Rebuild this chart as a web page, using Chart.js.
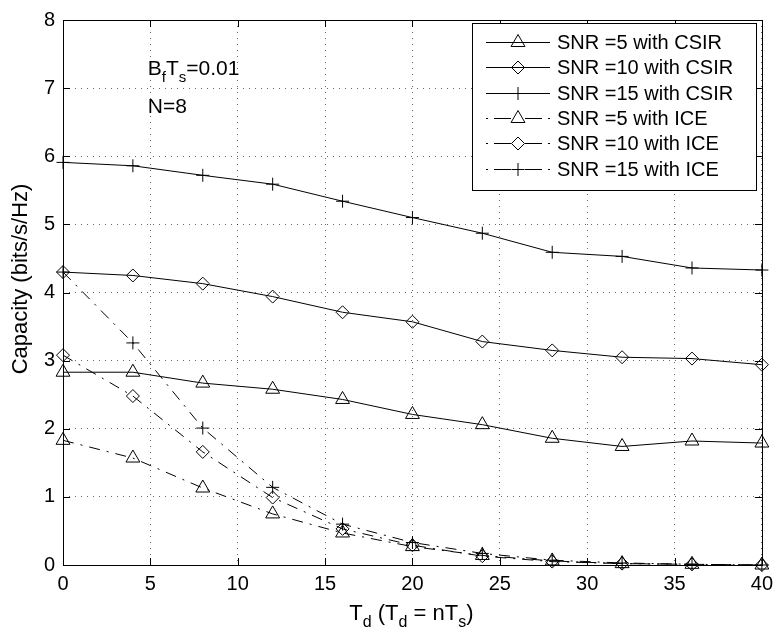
<!DOCTYPE html>
<html>
<head>
<meta charset="utf-8">
<script src="https://cdn.jsdelivr.net/npm/chart.js@4.4.0/dist/chart.umd.min.js"></script>
<style>
  html, body { margin: 0; padding: 0; background: #fff; }
  #wrap { width: 780px; height: 637px; }
</style>
</head>
<body>
<div id="wrap"><canvas id="capChart" width="780" height="637"></canvas></div>
<script>
// Td values (x) and capacity curves (bits/s/Hz)
const tdValues = [0, 4, 8, 12, 16, 20, 24, 28, 32, 36, 40];
const snr5Csir  = [2.83, 2.83, 2.67, 2.58, 2.43, 2.21, 2.06, 1.86, 1.74, 1.82, 1.79];
const snr10Csir = [4.30, 4.25, 4.13, 3.94, 3.71, 3.57, 3.28, 3.15, 3.05, 3.03, 2.94];
const snr15Csir = [5.91, 5.86, 5.72, 5.59, 5.34, 5.10, 4.87, 4.59, 4.53, 4.36, 4.33];
const snr5Ice   = [1.83, 1.57, 1.13, 0.75, 0.47, 0.27, 0.14, 0.06, 0.02, 0.01, 0.00];
const snr10Ice  = [3.08, 2.48, 1.66, 0.99, 0.53, 0.29, 0.13, 0.05, 0.02, 0.01, 0.00];
const snr15Ice  = [4.30, 3.26, 2.01, 1.14, 0.60, 0.33, 0.17, 0.07, 0.03, 0.01, 0.00];

const seriesLabels = [
  'SNR =5 with CSIR', 'SNR =10 with CSIR', 'SNR =15 with CSIR',
  'SNR =5 with ICE', 'SNR =10 with ICE', 'SNR =15 with ICE'
];
const xTickValues = [0, 5, 10, 15, 20, 25, 30, 35, 40];
const yTickValues = [0, 1, 2, 3, 4, 5, 6, 7, 8];

const FONT = '"Liberation Sans", Arial, Helvetica, sans-serif';
const DASHDOT = [11, 7, 2, 7];

function pts(ys) {
  return ys.map((y, i) => ({ x: tdValues[i], y: y }));
}

function series(label, ys, style, dashed) {
  return {
    label: label,
    data: pts(ys),
    borderColor: '#000',
    borderWidth: 1,
    borderDash: dashed ? DASHDOT : [],
    pointStyle: style,
    pointRadius: style === 'triangle' ? 8 : 6.5,
    pointBorderColor: '#000',
    pointBackgroundColor: 'rgba(0,0,0,0)',
    pointBorderWidth: 1,
    tension: 0,
    fill: false,
    clip: false
  };
}

// draw text made of normal and subscript pieces
function richText(ctx, parts, x, y, size, subSize, align) {
  let total = 0;
  parts.forEach(p => {
    ctx.font = (p.sub ? subSize : size) + 'px ' + FONT;
    total += ctx.measureText(p.t).width;
  });
  let cx = align === 'center' ? x - total / 2 : x;
  ctx.textAlign = 'left';
  ctx.textBaseline = 'alphabetic';
  parts.forEach(p => {
    ctx.font = (p.sub ? subSize : size) + 'px ' + FONT;
    ctx.fillText(p.t, cx, p.sub ? y + size * 0.32 : y);
    cx += ctx.measureText(p.t).width;
  });
}

function marker(ctx, style, x, y, r) {
  ctx.beginPath();
  if (style === 'triangle') {
    for (let k = 0; k < 3; k++) {
      const a = k * 2 * Math.PI / 3;
      const px = x + Math.sin(a) * r, py = y - Math.cos(a) * r;
      if (k === 0) ctx.moveTo(px, py); else ctx.lineTo(px, py);
    }
    ctx.closePath();
  } else if (style === 'rectRot') {
    ctx.moveTo(x - r, y); ctx.lineTo(x, y - r); ctx.lineTo(x + r, y); ctx.lineTo(x, y + r);
    ctx.closePath();
  } else {
    ctx.moveTo(x - r, y); ctx.lineTo(x + r, y);
    ctx.moveTo(x, y - r); ctx.lineTo(x, y + r);
  }
  ctx.stroke();
}

const decorations = {
  id: 'decorations',
  afterDraw(chart) {
    const ctx = chart.ctx;
    const a = chart.chartArea;
    const xs = chart.scales.x, ys = chart.scales.y;
    ctx.save();
    ctx.strokeStyle = '#000';
    ctx.fillStyle = '#000';
    ctx.lineWidth = 1;
    ctx.setLineDash([]);

    // axes box
    ctx.strokeRect(Math.round(a.left) + 0.5, Math.round(a.top) + 0.5,
      Math.round(a.right - a.left), Math.round(a.bottom - a.top));

    // inward tick marks on all four sides
    const tl = 7;
    ctx.beginPath();
    xTickValues.forEach(v => {
      const px = Math.round(xs.getPixelForValue(v)) + 0.5;
      ctx.moveTo(px, a.bottom); ctx.lineTo(px, a.bottom - tl);
      ctx.moveTo(px, a.top); ctx.lineTo(px, a.top + tl);
    });
    yTickValues.forEach(v => {
      const py = Math.round(ys.getPixelForValue(v)) + 0.5;
      ctx.moveTo(a.left, py); ctx.lineTo(a.left + tl, py);
      ctx.moveTo(a.right, py); ctx.lineTo(a.right - tl, py);
    });
    ctx.stroke();

    // axis titles
    richText(ctx, [
      { t: 'T' }, { t: 'd', sub: true }, { t: ' (T' }, { t: 'd', sub: true },
      { t: ' = nT' }, { t: 's', sub: true }, { t: ')' }
    ], (a.left + a.right) / 2 - 1, 620, 22, 16, 'center');

    ctx.save();
    ctx.translate(21, 279);
    ctx.rotate(-Math.PI / 2);
    ctx.font = '22px ' + FONT;
    ctx.textAlign = 'center';
    ctx.textBaseline = 'middle';
    ctx.fillText('Capacity (bits/s/Hz)', 0, 0);
    ctx.restore();

    // parameter annotations
    const annX = xs.getPixelForValue(4.85);
    richText(ctx, [
      { t: 'B' }, { t: 'f', sub: true }, { t: 'T' }, { t: 's', sub: true }, { t: '=0.01' }
    ], annX, ys.getPixelForValue(7.19), 21, 15, 'left');
    richText(ctx, [{ t: 'N=8' }], annX, ys.getPixelForValue(6.64), 21, 15, 'left');

    // legend
    const lx = 472, ly = 23, lw = 284, lh = 167;
    ctx.fillStyle = '#fff';
    ctx.fillRect(lx, ly, lw, lh);
    ctx.strokeRect(lx + 0.5, ly + 0.5, lw, lh);
    ctx.fillStyle = '#000';
    ctx.font = '20px ' + FONT;
    ctx.textAlign = 'left';
    ctx.textBaseline = 'middle';
    chart.data.datasets.forEach((ds, i) => {
      const cy = Math.round(ly + 19 + i * 25.3) + 0.5;
      const x0 = 486, x1 = 550, mx = 518;
      ctx.beginPath();
      if (ds.borderDash.length) {
        ctx.moveTo(x0, cy); ctx.lineTo(x0 + 2, cy);
        ctx.moveTo(x0 + 8, cy); ctx.lineTo(mx - 7, cy);
        ctx.moveTo(mx + 7, cy); ctx.lineTo(x1 - 8, cy);
        ctx.moveTo(x1 - 2, cy); ctx.lineTo(x1, cy);
      } else {
        ctx.moveTo(x0, cy); ctx.lineTo(x1, cy);
      }
      ctx.stroke();
      marker(ctx, ds.pointStyle, mx, cy, ds.pointRadius);
      ctx.fillText(ds.label, 557, cy + 1);
    });
    ctx.restore();
  }
};

new Chart(document.getElementById('capChart'), {
  type: 'line',
  data: {
    datasets: [
      series(seriesLabels[0], snr5Csir, 'triangle', false),
      series(seriesLabels[1], snr10Csir, 'rectRot', false),
      series(seriesLabels[2], snr15Csir, 'cross', false),
      series(seriesLabels[3], snr5Ice, 'triangle', true),
      series(seriesLabels[4], snr10Ice, 'rectRot', true),
      series(seriesLabels[5], snr15Ice, 'cross', true)
    ]
  },
  options: {
    responsive: false,
    animation: false,
    devicePixelRatio: 1,
    layout: { padding: { top: 13, right: 15, left: 0, bottom: 0 } },
    plugins: { legend: { display: false }, tooltip: { enabled: false } },
    scales: {
      x: {
        type: 'linear', min: 0, max: 40,
        afterBuildTicks: s => { s.ticks = xTickValues.map(v => ({ value: v })); },
        afterFit: s => { s.height = 72; },
        ticks: { color: '#000', font: { family: FONT, size: 20 }, padding: 7, maxRotation: 0 },
        grid: { color: 'rgba(0,0,0,0.6)', lineWidth: 1, drawTicks: false },
        border: { display: false, dash: [1, 5] }
      },
      y: {
        min: 0, max: 8,
        afterBuildTicks: s => { s.ticks = yTickValues.map(v => ({ value: v })); },
        afterFit: s => { s.width = 63; },
        ticks: { color: '#000', font: { family: FONT, size: 20 }, padding: 8 },
        grid: { color: 'rgba(0,0,0,0.6)', lineWidth: 1, drawTicks: false },
        border: { display: false, dash: [1, 5] }
      }
    }
  },
  plugins: [decorations]
});
</script>
</body>
</html>
